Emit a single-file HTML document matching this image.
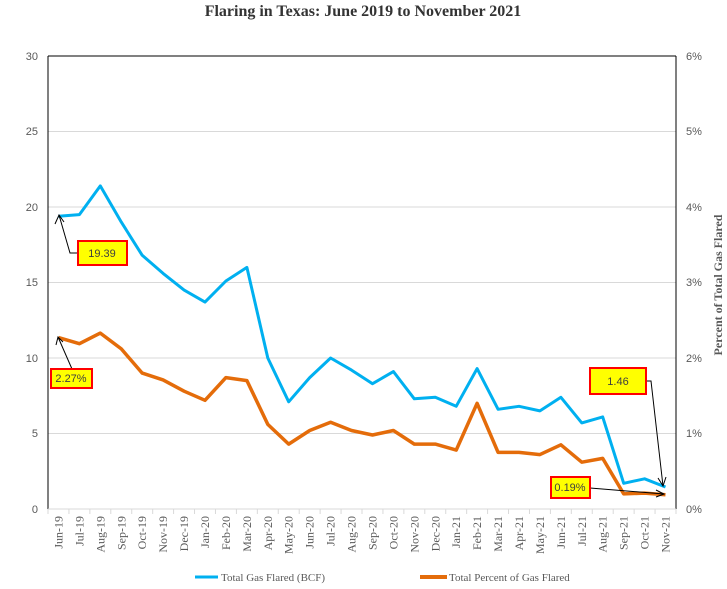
<!DOCTYPE html>
<html><head><meta charset="utf-8"><style>
html,body{margin:0;padding:0;background:#fff;}
svg{display:block;font-family:"Liberation Sans",sans-serif;}
.t{font-family:"Liberation Serif",serif;}
</style></head><body>
<svg width="727" height="589" viewBox="0 0 727 589">
<text x="363" y="16" text-anchor="middle" class="t" font-weight="bold" font-size="16" fill="#333">Flaring in Texas: June 2019 to November 2021</text>
<g stroke="#d9d9d9" stroke-width="1">
<line x1="48" x2="676" y1="131.5" y2="131.5"/><line x1="48" x2="676" y1="207" y2="207"/><line x1="48" x2="676" y1="282.5" y2="282.5"/><line x1="48" x2="676" y1="358" y2="358"/><line x1="48" x2="676" y1="433.5" y2="433.5"/>
</g>
<line x1="48" x2="676" y1="56" y2="56" stroke="#000"/>
<line x1="48" x2="48" y1="56" y2="509" stroke="#000"/>
<line x1="676" x2="676" y1="56" y2="509" stroke="#000"/>
<line x1="48" x2="676" y1="509" y2="509" stroke="#d9d9d9"/>
<g font-size="11" fill="#595959" text-anchor="end">
<text x="38" y="60">30</text><text x="38" y="135">25</text><text x="38" y="211">20</text><text x="38" y="286">15</text><text x="38" y="362">10</text><text x="38" y="437">5</text><text x="38" y="513">0</text>
</g>
<g font-size="11" fill="#595959" text-anchor="start">
<text x="686" y="60">6%</text><text x="686" y="135">5%</text><text x="686" y="211">4%</text><text x="686" y="286">3%</text><text x="686" y="362">2%</text><text x="686" y="437">1%</text><text x="686" y="513">0%</text>
</g>
<text transform="translate(722,285) rotate(-90)" text-anchor="middle" class="t" font-weight="bold" font-size="12" fill="#595959">Percent of Total Gas Flared</text>
<g id="ticks" stroke="#d9d9d9"></g>
<g id="xl" class="t" font-size="12" fill="#595959"></g>
<polyline id="blue" fill="none" stroke="#00b0f0" stroke-width="3" stroke-linejoin="round"/>
<polyline id="org" fill="none" stroke="#e46c0a" stroke-width="3.5" stroke-linejoin="round"/>
<g stroke="#000" stroke-width="1" fill="none">
<polyline points="78,253 70,253 59,215"/><path d="M55,224 L59,215 L64,222"/>
<polyline points="72,369 58,337"/><path d="M56,345 L58,337 L63,342"/>
<polyline points="646,381 651,381 663,486"/><path d="M658,478 L663,486 L666,477"/>
<polyline points="590,488 664,494"/><path d="M656,490 L664,494 L656,497"/>
</g>
<g stroke="#ff0000" stroke-width="2" fill="#ffff00">
<rect x="78" y="241" width="49" height="24"/>
<rect x="51" y="369" width="41" height="19"/>
<rect x="590" y="368" width="56" height="26"/>
<rect x="551" y="477" width="39" height="21"/>
</g>
<g font-size="11" fill="#404040" text-anchor="middle">
<text x="102" y="257">19.39</text><text x="71" y="382">2.27%</text><text x="618" y="385">1.46</text><text x="570" y="491">0.19%</text>
</g>
<line x1="195" x2="218" y1="577" y2="577" stroke="#00b0f0" stroke-width="3"/>
<text x="221" y="581" class="t" font-size="11" fill="#595959">Total Gas Flared (BCF)</text>
<line x1="420" x2="447" y1="577" y2="577" stroke="#e46c0a" stroke-width="4"/>
<text x="449" y="581" class="t" font-size="11" fill="#595959">Total Percent of Gas Flared</text>
</svg>
<script>
const labs=["Jun-19","Jul-19","Aug-19","Sep-19","Oct-19","Nov-19","Dec-19","Jan-20","Feb-20","Mar-20","Apr-20","May-20","Jun-20","Jul-20","Aug-20","Sep-20","Oct-20","Nov-20","Dec-20","Jan-21","Feb-21","Mar-21","Apr-21","May-21","Jun-21","Jul-21","Aug-21","Sep-21","Oct-21","Nov-21"];
const b=[19.39,19.5,21.4,19,16.8,15.6,14.5,13.7,15.1,16,10,7.1,8.7,10,9.2,8.3,9.1,7.3,7.4,6.8,9.3,6.6,6.8,6.5,7.4,5.7,6.1,1.7,2.0,1.46];
const o=[2.27,2.19,2.33,2.12,1.8,1.71,1.56,1.44,1.74,1.7,1.12,0.86,1.04,1.15,1.04,0.98,1.04,0.86,0.86,0.78,1.4,0.75,0.75,0.72,0.85,0.62,0.67,0.2,0.21,0.19];
const w=628/30,X=i=>48+w*(i+0.5),Y=v=>509-v*15.1;
document.getElementById('blue').setAttribute('points',b.map((v,i)=>X(i).toFixed(1)+','+Y(v).toFixed(1)).join(' '));
document.getElementById('org').setAttribute('points',o.map((v,i)=>X(i).toFixed(1)+','+Y(v*5).toFixed(1)).join(' '));
let t='',l='';
for(let i=0;i<=30;i++){const x=48+w*i;t+=`<line x1="${x}" x2="${x}" y1="509" y2="514"/>`;}
labs.forEach((s,i)=>{l+=`<text transform="translate(${X(i)+4},516) rotate(-90)" text-anchor="end">${s}</text>`;});
document.getElementById('ticks').innerHTML=t;document.getElementById('xl').innerHTML=l;
</script>
</body></html>
